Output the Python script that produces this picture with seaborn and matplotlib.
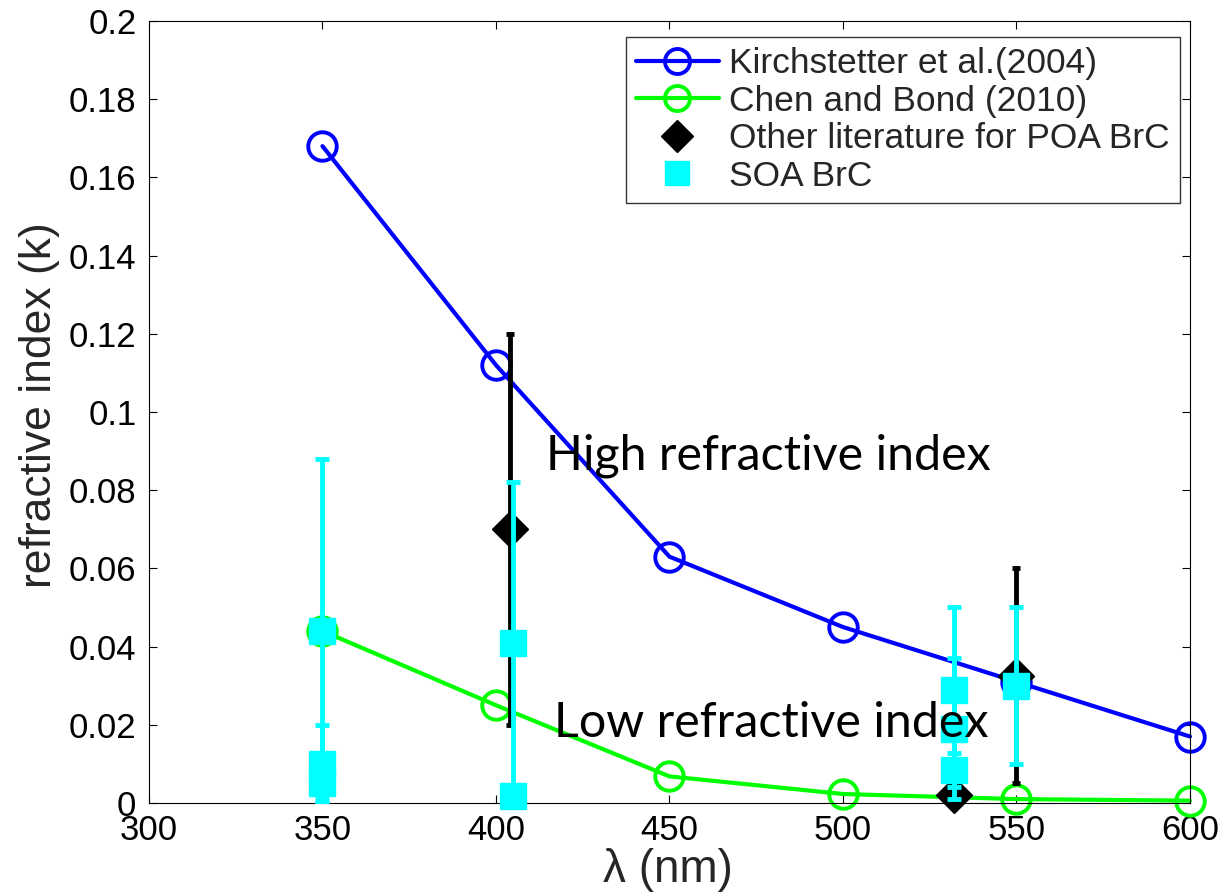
import numpy as np
import pandas as pd
import matplotlib
matplotlib.use("Agg")
import matplotlib.pyplot as plt
import seaborn as sns
from matplotlib.lines import Line2D

# Imaginary refractive index k of brown carbon vs. wavelength
wavelength = [350, 400, 450, 500, 550, 600]
k_kirchstetter = [0.168, 0.112, 0.063, 0.045, 0.031, 0.017]
k_chen_bond = [0.044, 0.025, 0.0068, 0.0023, 0.001, 0.0006]

# Other literature values for primary (POA) brown carbon
poa_wavelength = [404, 532, 550]
poa_k = [0.070, 0.002, 0.0325]
poa_err = [0.050, 0.001, 0.0275]

# Secondary (SOA) brown carbon values
soa_wavelength = [350, 350, 350, 405, 405, 532, 532, 532, 550]
soa_k = [0.044, 0.010, 0.005, 0.041, 0.0018, 0.029, 0.019, 0.0084, 0.030]
soa_err = [0.044, 0.010, 0.004, 0.041, 0.001, 0.021, 0.018, 0.0044, 0.020]

legend_labels = ["Kirchstetter et al.(2004)", "Chen and Bond (2010)",
                 "Other literature for POA BrC", "SOA BrC"]
x_ticks = [300, 350, 400, 450, 500, 550, 600]
y_ticks = [0, 0.02, 0.04, 0.06, 0.08, 0.1, 0.12, 0.14, 0.16, 0.18, 0.2]
y_tick_labels = ["0", "0.02", "0.04", "0.06", "0.08", "0.1", "0.12",
                 "0.14", "0.16", "0.18", "0.2"]

sns.set_theme(style="ticks")
plt.rcParams["font.family"] = ["Liberation Sans", "DejaVu Sans"]
plt.rcParams["axes.edgecolor"] = "black"
plt.rcParams["axes.linewidth"] = 0.8

fig = plt.figure(figsize=(12.2, 8.94), dpi=100)
ax = fig.add_axes([0.1221, 0.1018, 0.8533, 0.8747])

lit = pd.DataFrame({"wavelength": wavelength,
                    "kirchstetter": k_kirchstetter,
                    "chen_bond": k_chen_bond})

line_kw = dict(linewidth=3, marker="o", markersize=20.5,
               markerfacecolor="none", markeredgewidth=2.8,
               clip_on=False, legend=False, errorbar=None)
sns.lineplot(data=lit, x="wavelength", y="kirchstetter", ax=ax, color="blue",
             markeredgecolor="blue", zorder=2, **line_kw)
sns.lineplot(data=lit, x="wavelength", y="chen_bond", ax=ax, color="#00ff00",
             markeredgecolor="#00ff00", zorder=2, **line_kw)

poa = ax.errorbar(poa_wavelength, poa_k, yerr=poa_err, fmt="D", color="black",
                  markersize=18, elinewidth=3.5, capsize=3, capthick=3.5,
                  zorder=3)
poa[0].set_clip_on(False)

soa = ax.errorbar(soa_wavelength, soa_k, yerr=soa_err, fmt="s", color="cyan",
                  markersize=19, elinewidth=3.5, capsize=5, capthick=3.5,
                  zorder=4)
soa[0].set_clip_on(False)

note_font = ["Lato", "DejaVu Sans"]
ax.text(414.3, 0.0853, "High refractive index", fontsize=34.8,
        family=note_font, va="baseline", ha="left", color="black", zorder=6)
ax.text(416.6, 0.0168, "Low refractive index", fontsize=34.8,
        family=note_font, va="baseline", ha="left", color="black", zorder=6)

ax.set_xlim(300, 600)
ax.set_ylim(0, 0.2)
ax.set_xticks(x_ticks)
ax.set_xticklabels([str(t) for t in x_ticks])
ax.set_yticks(y_ticks)
ax.set_yticklabels(y_tick_labels)
ax.tick_params(direction="in", length=6, width=0.8, top=True, right=True,
               labelsize=25, colors="black")
ax.tick_params(axis="y", pad=9)
ax.tick_params(axis="x", pad=8)
for side in ["top", "right", "bottom", "left"]:
    ax.spines[side].set_visible(True)
    ax.spines[side].set_color("black")

ax.set_xlabel("λ (nm)", fontsize=33)
ax.set_ylabel("refractive index (k)", fontsize=32)
ax.xaxis.set_label_coords(0.499, -0.058)
ax.yaxis.set_label_coords(-0.0855, 0.509)

handles = [
    Line2D([], [], color="blue", lw=3, marker="o", ms=18, mfc="none",
           mec="blue", mew=2.8),
    Line2D([], [], color="#00ff00", lw=3, marker="o", ms=18, mfc="none",
           mec="#00ff00", mew=2.8),
    Line2D([], [], ls="none", marker="D", color="black", ms=16),
    Line2D([], [], ls="none", marker="s", color="cyan", ms=17),
]
leg = ax.legend(handles, legend_labels, loc="upper right",
                bbox_to_anchor=(0.9904, 0.9795), borderaxespad=0,
                fontsize=25.5, frameon=True, fancybox=False, framealpha=1,
                edgecolor="#333333", handlelength=2.35, handletextpad=0.3,
                labelspacing=0.13, borderpad=0.28)
leg.get_frame().set_linewidth(1.0)
leg.set_zorder(10)

fig.savefig("out.png", dpi=100, facecolor="white")
